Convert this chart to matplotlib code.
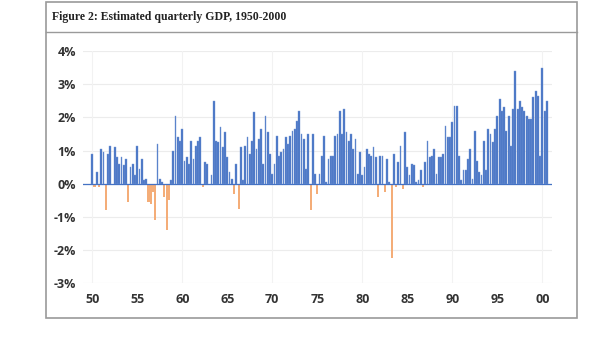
import numpy as np
import matplotlib.pyplot as plt
from matplotlib.patches import Rectangle
from matplotlib.lines import Line2D

# quarterly growth, % (1950 Q1 onwards), one row per year
gdp_q = [
    0.9, -0.1, 0.35, -0.1,
    1.05, 0.95, -0.8, 0.9,
    1.15, -0.05, 1.1, 0.8,
    0.6, 0.8, 0.55, 0.75,
    -0.55, 0.5, 0.6, 0.25,
    1.15, 0.45, 0.75, 0.1,
    0.15, -0.55, -0.6, -0.25,
    -1.1, 1.2, 0.15, 0.05,
    -0.4, -1.4, -0.5, 0.1,
    1.0, 2.05, 1.4, 1.3,
    1.65, 0.7, 0.8, 0.6,
    1.3, 0.75, 1.15, 1.3,
    1.4, -0.1, 0.65, 0.6,
    -0.05, 0.25, 2.5, 1.3,
    1.25, 1.7, 1.1, 1.55,
    0.8, 0.35, 0.15, -0.3,
    0.6, -0.75, 1.1, 0.1,
    1.15, 1.4, 0.9, 1.3,
    2.15, 1.05, 1.35, 1.65,
    0.6, 2.05, 1.55, 0.9,
    0.3, 0.6, 1.45, 0.85,
    0.95, 1.05, 1.4, 1.2,
    1.45, 1.6, 1.65, 1.9,
    2.2, 1.5, 1.35, 0.45,
    1.5, -0.8, 1.5, 0.3,
    -0.3, 0.3, 0.85, 1.45,
    0.05, 0.75, 0.85, 0.85,
    1.45, 1.5, 2.2, 1.5,
    2.25, 1.55, 1.3, 1.5,
    1.05, 1.35, 0.3, 0.95,
    0.25, 0.5, 1.05, 0.9,
    0.85, 1.1, 0.8, -0.4,
    0.85, 0.85, -0.25, 0.75,
    0.05, -2.25, 0.9, -0.1,
    0.65, 1.15, -0.15, 1.55,
    0.5, 0.25, 0.6, 0.55,
    0.05, 0.1, 0.4, -0.1,
    0.65, 1.3, 0.8, 0.85,
    1.05, 0.3, 0.8, 0.8,
    0.9, 1.75, 1.4, 1.4,
    1.85, 2.35, 2.35, 0.85,
    0.1, 0.4, 0.4, 0.75,
    1.05, 0.15, 1.6, 0.7,
    0.35, 0.25, 1.3, 0.4,
    1.65, 1.5, 1.25, 1.65,
    2.05, 2.55, 2.2, 2.3,
    1.6, 2.05, 1.15, 2.25,
    3.4, 2.25, 2.5, 2.3,
    2.2, 2.05, 1.95, 1.95,
    2.6, 2.8, 2.65, 0.85,
    3.5, 2.2, 2.5,
]
year_labels = ['50', '55', '60', '65', '70', '75', '80', '85', '90', '95', '00']
y_ticks = [-3, -2, -1, 0, 1, 2, 3, 4]
title = 'Figure 2: Estimated quarterly GDP, 1950-2000'

blue = '#4472c4'
orange = '#f4ad78'
label_col = '#333333'

vals = np.array(gdp_q)
idx = np.arange(len(vals))
pos = vals >= 0

fig = plt.figure(figsize=(5.99, 3.40), dpi=100)
ax = fig.add_axes([0.1386, 0.1668, 0.7830, 0.6832])

ax.bar(idx[pos], vals[pos], width=0.8, color=blue, edgecolor='#7b9bd6',
       linewidth=0.3, zorder=3)
ax.bar(idx[~pos], vals[~pos], width=0.9, color=orange, linewidth=0, zorder=3)
ax.axhline(0, color=blue, lw=0.9, zorder=4)

ax.set_ylim(-3, 4)
ax.set_xlim(-4.1, 204.3)
ax.set_yticks(y_ticks)
ax.set_yticklabels([f'{t}%' for t in y_ticks])
ax.set_xticks(np.arange(0, 20 * len(year_labels), 20))
ax.set_xticklabels(year_labels)

# light grid: every 1% across, every ten years down
for t in y_ticks:
    ax.axhline(t, color='#ececec', lw=0.8, zorder=0)
for x in range(0, 201, 40):
    ax.axvline(x, color='#f2f2f2', lw=0.8, zorder=0)

for s in ax.spines.values():
    s.set_visible(False)
ax.tick_params(length=0, labelsize=9, labelcolor=label_col)
ax.tick_params(axis='x', pad=7)
ax.tick_params(axis='y', pad=5)
for lab in ax.get_xticklabels() + ax.get_yticklabels():
    lab.set_fontfamily('Open Sans')
    lab.set_fontweight('bold')

# frame around the figure with a title row
fig.add_artist(Rectangle((0.0768, 0.0647), 0.8865, 0.929, transform=fig.transFigure,
                         fill=False, edgecolor='#9a9a9a', lw=1.2))
fig.add_artist(Line2D([0.0768, 0.9633], [0.906, 0.906], transform=fig.transFigure,
                      color='#9a9a9a', lw=1.0))
fig.text(0.0868, 0.95, title, fontsize=8.5, fontweight='bold', family='Liberation Serif',
         color='#222222', va='center', ha='left')

fig.savefig('out.png', dpi=100)
